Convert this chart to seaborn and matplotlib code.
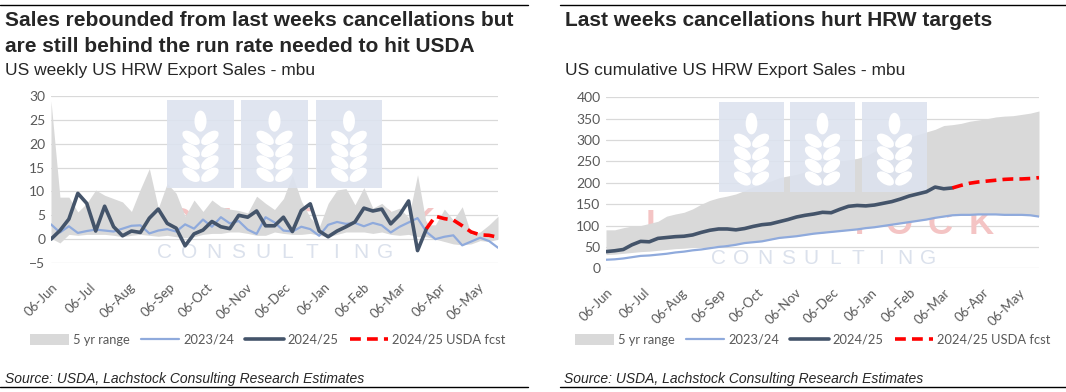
import numpy as np
import pandas as pd
import matplotlib
matplotlib.use("Agg")
import matplotlib.pyplot as plt
import seaborn as sns
from matplotlib.patches import Rectangle, Ellipse, Patch
from matplotlib.lines import Line2D

# ---------------- data ----------------
week_start = "2024-06-06"
n_weeks = 51
tick_labels = ["06-Jun", "06-Jul", "06-Aug", "06-Sep", "06-Oct", "06-Nov",
               "06-Dec", "06-Jan", "06-Feb", "06-Mar", "06-Apr", "06-May"]

# weekly sales (mbu)
weekly_range_high = [29, 8.8, 8.8, 5.7, 7.5, 10.3, 9.2, 8.5, 7.8, 5.8,
                     10.5, 14.8, 6.5, 11.7, 9.6, 4.8, 8.2, 5.8, 8.2, 6.8,
                     6.3, 6.0, 5.5, 9.0, 7.5, 6.2, 8.5, 13.5, 8.0, 4.5,
                     2.5, 7.5, 10.3, 10.6, 7.2, 10.8, 6.5, 7.5, 5.8, 6.5,
                     4.5, 13.5, 3.0, 3.0, 6.3, 4.0, 6.8, 1.0, 1.5, 3.0,
                     4.8]
weekly_range_low = [0.2, -0.8, 1.0, 0.8, 1.0, 1.0, 1.0, 0.8, 0.5, 0.8,
                    1.0, 0.8, 0.6, 0.8, 0.5, 0.3, 0.5, 1.0, 1.2, 1.2,
                    1.5, 1.5, 1.2, 0.8, 0.8, 1.5, 1.2, 1.0, 1.0, 1.2,
                    0.8, 0.5, 1.0, 1.5, 1.5, 1.5, 1.2, 1.5, 1.0, 0.8,
                    1.0, 0.5, 0.5, 0.0, -0.5, -1.0, -1.2, -1.0, -0.3, -0.5,
                    0.0]
weekly_2324 = [3.1, 1.4, 2.7, 1.3, 1.7, 2.0, 1.8, 1.6, 2.2, 2.8,
               2.9, 1.2, 1.8, 2.1, 1.6, 3.1, 2.2, 4.1, 2.6, 4.6,
               3.3, 3.8, 2.0, 1.1, 4.6, 3.5, 1.8, 1.6, 2.6, 2.1,
               0.7, 3.0, 3.6, 3.2, 3.4, 2.7, 3.4, 2.9, 1.4, 2.6,
               3.5, 4.4, 1.5, 0.0, 0.5, 0.8, -1.3, -0.5, 0.3, -0.4,
               -1.8]
weekly_2425 = [0.0, 1.8, 4.2, 9.6, 7.5, 1.7, 6.9, 2.6, 0.7, 1.7,
               1.4, 4.4, 6.3, 3.3, 2.3, -1.4, 1.1, 1.9, 3.7, 2.6,
               2.2, 5.0, 4.6, 5.9, 2.8, 2.8, 4.6, 1.6, 6.0, 7.4,
               1.7, 0.5, 1.7, 2.6, 3.6, 6.5, 5.9, 6.3, 3.2, 5.1,
               8.0, -2.4, 2.2]
weekly_fcst = [2.2, 4.8, 4.3, 4.0, 2.8, 1.5, 0.9, 0.8, 0.4]  # from week 43

# cumulative sales (mbu)
cum_range_high = [90, 90, 95, 99, 100, 105, 110, 122, 127, 131,
                  139, 150, 159, 165, 169, 174, 182, 191, 198, 204,
                  212, 216, 220, 226, 233, 241, 246, 250, 254, 257,
                  263, 274, 282, 291, 301, 307, 313, 319, 325, 334,
                  336, 339, 344, 347, 350, 354, 356, 357, 360, 363,
                  368]
cum_2324 = [20, 21, 23, 26, 29, 30, 32, 34, 37, 39,
            42, 44, 47, 50, 52, 55, 59, 61, 63, 67,
            71, 73, 75, 78, 81, 83, 85, 87, 89, 91,
            94, 96, 99, 102, 105, 108, 111, 114, 118, 121,
            124, 125, 125, 126, 126, 126, 125, 125, 125, 124,
            121]
cum_range_low = [32, 33, 35, 37, 39, 40, 42, 44, 46, 47,
                 49, 50, 51, 53, 55, 57, 60, 61, 63, 67,
                 71, 73, 75, 78, 81, 83, 85, 87, 89, 91,
                 94, 96, 99, 102, 105, 108, 111, 114, 118, 121,
                 124, 125, 125, 126, 126, 126, 125, 125, 125, 124,
                 121]
cum_2425 = [39, 41, 44, 55, 63, 62, 70, 72, 74, 75,
            78, 84, 89, 92, 92, 90, 93, 98, 102, 104,
            109, 114, 120, 124, 127, 131, 130, 138, 145, 147,
            146, 148, 152, 156, 162, 169, 174, 179, 190, 186,
            188]
cum_fcst = [188, 194, 199, 202, 204, 206, 208, 209, 209, 210, 212]  # from week 41

legend_labels = ["5 yr range", "2023/24", "2024/25", "2024/25 USDA fcst"]

# ---------------- styles ----------------
W, H = 1066, 392
C_FILL = "#d9d9d9"
C_LIGHT = "#8faadc"
C_DARK = "#44546a"
C_RED = "#ff0000"
C_TXT = "#595959"
TICK_FONT = "Lato"
HEAD_FONT = "Liberation Sans"

sns.set_theme(style="white")
plt.rcParams["font.family"] = ["Liberation Sans", "DejaVu Sans"]

dates = pd.date_range(week_start, periods=n_weeks, freq="7D")
tick_dates = [pd.Timestamp(week_start) + pd.DateOffset(months=k) for k in range(len(tick_labels))]

fig = plt.figure(figsize=(W / 100, H / 100), dpi=100)


def fx(x):
    return x / W


def fy(y):
    return 1 - y / H


def pin(x, y):
    return (x / 100.0, (H - y) / 100.0)


def draw_watermark(ax, squares, consult_span, consult_y, pink_x0, pink_pitch, pink_y):
    tr = fig.dpi_scale_trans
    for (x0, y0, w, h) in squares:
        ax.add_patch(Rectangle(pin(x0, y0 + h), w / 100, h / 100, transform=tr,
                               facecolor="#dde3ef", edgecolor="none", alpha=0.9,
                               zorder=1.5, clip_on=False))
        cx = x0 + w / 2
        ax.add_patch(Ellipse(pin(cx, y0 + 0.24 * h), 0.18 * w / 100, 0.24 * h / 100,
                             transform=tr, facecolor="white", edgecolor="none",
                             zorder=1.6, clip_on=False))
        for fr in (0.43, 0.57, 0.71, 0.85):
            for side, ang in ((-1, -35), (1, 35)):
                ax.add_patch(Ellipse(pin(cx + side * 0.14 * w, y0 + fr * h),
                                     0.30 * w / 100, 0.12 * h / 100, angle=ang,
                                     transform=tr, facecolor="white", edgecolor="none",
                                     zorder=1.6, clip_on=False))
    letters = "CONSULTING"
    xa, xb = consult_span
    step = (xb - xa) / (len(letters) - 1)
    for i, ch in enumerate(letters):
        ax.text(*pin(xa + i * step, consult_y), ch, transform=tr, ha="center", va="center",
                fontsize=15, color="#dbe1ec", zorder=1.55, family=HEAD_FONT, clip_on=False)
    for i, ch in enumerate("LACHSTOCK"):
        ax.text(*pin(pink_x0 + i * pink_pitch, pink_y), ch, transform=tr, ha="center",
                va="center", fontsize=25, fontweight="bold", color="#f4c4c4",
                zorder=0.9, family=HEAD_FONT, clip_on=False)


def style_axes(ax, ylim, yticks):
    ax.set_ylim(*ylim)
    ax.set_yticks(yticks)
    ax.set_xlim(dates[0], dates[-1])
    ax.set_xticks(tick_dates)
    ax.set_xticklabels(tick_labels, rotation=45, ha="right", va="top",
                       rotation_mode="anchor", family=TICK_FONT, fontsize=9.5, color=C_TXT)
    for lab in ax.get_yticklabels():
        lab.set_family(TICK_FONT)
    ax.tick_params(axis="y", labelsize=10, labelcolor=C_TXT, length=0, pad=4)
    ax.tick_params(axis="x", length=0, pad=13)
    ax.grid(axis="y", color="#d9d9d9", lw=0.9, zorder=0.5)
    ax.grid(axis="x", visible=False)
    ax.set_axisbelow(True)
    for s in ax.spines.values():
        s.set_visible(False)
    ax.set_xlabel("")
    ax.set_ylabel("")
    ax.patch.set_alpha(0)


# ---------------- left chart ----------------
axL = fig.add_axes([fx(51), fy(263), fx(498 - 51), (263 - 96) / H])
axL.fill_between(dates, weekly_range_low, weekly_range_high, color=C_FILL, lw=0, zorder=1)
sns.lineplot(x=dates, y=weekly_2324, ax=axL, color=C_LIGHT, lw=1.6, zorder=3, legend=False)
sns.lineplot(x=dates[:len(weekly_2425)], y=weekly_2425, ax=axL, color=C_DARK, lw=2.6,
             zorder=4, legend=False)
f0 = len(weekly_2425) - 1
sns.lineplot(x=dates[f0:f0 + len(weekly_fcst)], y=weekly_fcst, ax=axL, color=C_RED, lw=2.6,
             linestyle=(0, (3, 1.7)), zorder=5, legend=False)
style_axes(axL, (-5, 30), np.arange(-5, 31, 5))
draw_watermark(axL, [(167, 100, 67, 88), (241, 100, 67, 88), (316, 100, 66, 88)],
               (165, 385), 253, 98, 40.5, 222)

# ---------------- right chart ----------------
axR = fig.add_axes([fx(606), fy(268.3), fx(1039 - 606), (268.3 - 97.3) / H])
axR.fill_between(dates, cum_range_low, cum_range_high, color=C_FILL, lw=0, zorder=1)
sns.lineplot(x=dates, y=cum_2324, ax=axR, color=C_LIGHT, lw=1.6, zorder=3, legend=False)
sns.lineplot(x=dates[:len(cum_2425)], y=cum_2425, ax=axR, color=C_DARK, lw=2.6,
             zorder=4, legend=False)
g0 = len(cum_2425) - 1
sns.lineplot(x=dates[g0:g0 + len(cum_fcst)], y=cum_fcst, ax=axR, color=C_RED, lw=2.6,
             linestyle=(0, (3, 1.7)), zorder=5, legend=False)
style_axes(axR, (0, 400), np.arange(0, 401, 50))
draw_watermark(axR, [(719, 102, 65, 90), (790, 102, 65, 90), (862, 102, 65, 90)],
               (718, 928), 258, 656, 40.6, 225)

# ---------------- legends ----------------
handles = [Patch(facecolor=C_FILL, edgecolor="none"),
           Line2D([], [], color=C_LIGHT, lw=1.6),
           Line2D([], [], color=C_DARK, lw=2.6),
           Line2D([], [], color=C_RED, lw=2.6, linestyle=(0, (3, 1.7)))]
for cx in (268, 813):
    leg = fig.legend(handles, legend_labels, loc="center", bbox_to_anchor=(fx(cx), fy(340)),
                     ncol=4, frameon=False, handlelength=3.0, handleheight=0.9,
                     handletextpad=0.3, columnspacing=0.85,
                     prop={"family": TICK_FONT, "size": 9.3})
    for t in leg.get_texts():
        t.set_color(C_TXT)

# ---------------- titles & sources ----------------
fig.text(fx(5), fy(20), "Sales rebounded from last weeks cancellations but",
         fontsize=15, fontweight="bold", va="center", family=HEAD_FONT)
fig.text(fx(5), fy(46), "are still behind the run rate needed to hit USDA",
         fontsize=15, fontweight="bold", va="center", family=HEAD_FONT)
fig.text(fx(5), fy(70), "US weekly US HRW Export Sales - mbu",
         fontsize=12.5, va="center", family=HEAD_FONT)
fig.text(fx(565), fy(20), "Last weeks cancellations hurt HRW targets",
         fontsize=15, fontweight="bold", va="center", family=HEAD_FONT)
fig.text(fx(565), fy(70), "US cumulative US HRW Export Sales - mbu",
         fontsize=12.5, va="center", family=HEAD_FONT)
src = "Source: USDA, Lachstock Consulting Research Estimates"
fig.text(fx(5), fy(379), src, fontsize=10, style="italic", va="center", family=HEAD_FONT)
fig.text(fx(564), fy(379), src, fontsize=10, style="italic", va="center", family=HEAD_FONT)

for (xa, xb) in ((0, 528), (560, 1066)):
    for yy in (5, 387):
        fig.add_artist(Line2D([fx(xa), fx(xb)], [fy(yy), fy(yy)], color="black", lw=1.0))

fig.savefig("out.png", dpi=100)
